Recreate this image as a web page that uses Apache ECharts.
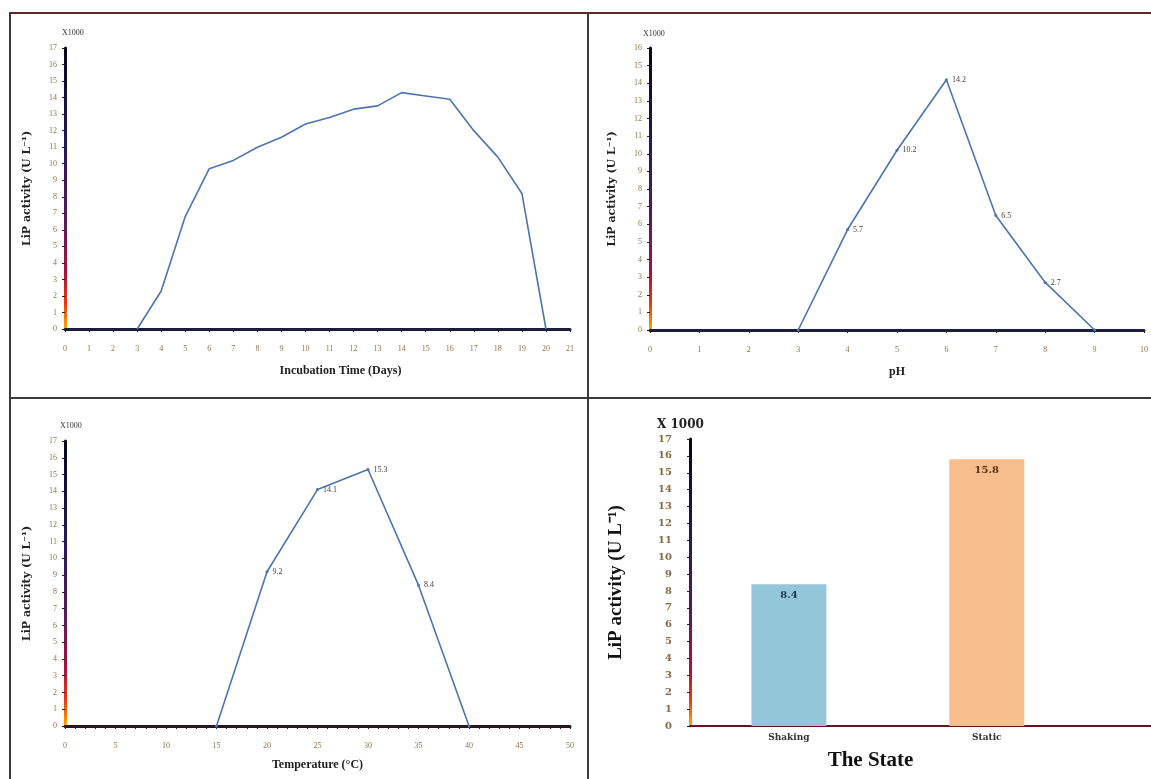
<!DOCTYPE html>
<html>
<head>
<meta charset="utf-8">
<script src="https://cdn.jsdelivr.net/npm/echarts@6/dist/echarts.min.js"></script>
<style>
html,body{margin:0;padding:0;background:#fff;}
#chart{width:1151px;height:779px;}
</style>
</head>
<body>
<div id="chart"></div>
<script>
// ---- data ----
const incubationDays = [3,4,5,6,7,8,9,10,11,12,13,14,15,16,17,18,19,20];
const incubationActivity = [0,2.3,6.8,9.7,10.2,11.0,11.6,12.4,12.8,13.3,13.5,14.3,14.1,13.9,12.0,10.4,8.2,0];
const pHValues = [3,4,5,6,7,8,9];
const pHActivity = [0,5.7,10.2,14.2,6.5,2.7,0];
const temperatures = [15,20,25,30,35,40];
const temperatureActivity = [0,9.2,14.1,15.3,8.4,0];
const states = ['Shaking','Static'];
const stateActivity = [8.4,15.8];
const stateColors = ['#93c6d9','#f7bd8d'];

const yName = 'LiP activity (U L\u207B\u00B9)';
const serif = 'Liberation Serif';
const tickColor = '#8a7450';
const lineColor = '#4d74b0';

function yGradient(){
  return new echarts.graphic.LinearGradient(0,0,0,1,[
    {offset:0,color:'#05051a'},
    {offset:0.35,color:'#23195a'},
    {offset:0.62,color:'#5a1a5a'},
    {offset:0.8,color:'#b0103a'},
    {offset:0.9,color:'#e83a10'},
    {offset:1,color:'#ffb400'}
  ]);
}
const pairs = (xs, ys) => xs.map((x,i)=>[x, ys[i]]);
const incMax = Math.max(...incubationActivity);

function lineY(gridIndex, max){
  return {
    type:'value', gridIndex, min:0, max, interval:1,
    name: yName, nameLocation:'middle', nameGap:32,
    nameTextStyle:{fontFamily:'DejaVu Serif', fontWeight:'bold', fontSize:11, color:'#222'},
    axisLine:{show:true, lineStyle:{color:yGradient(), width:3}},
    axisTick:{show:true, length:3, lineStyle:{color:'#222'}},
    axisLabel:{fontFamily:serif, fontSize:8, color:tickColor, margin:8},
    splitLine:{show:false}
  };
}
function lineX(gridIndex, max, interval, name, axisColor){
  return {
    type:'value', gridIndex, min:0, max, interval,
    name, nameLocation:'middle', nameGap:36,
    nameTextStyle:{fontFamily:serif, fontWeight:'bold', fontSize:12, color:'#222'},
    axisLine:{show:true, onZero:false, lineStyle:{color:axisColor, width:3}},
    axisTick:{show:true, length:3, lineStyle:{color:'#222'}},
    axisLabel:{fontFamily:serif, fontSize:8, color:tickColor, margin:16},
    splitLine:{show:false}
  };
}

const chart = echarts.init(document.getElementById('chart'));
const incX = lineX(0, 21, 1, 'Incubation Time (Days)', '#1c1c3c');
incX.nameTextStyle.padding = [0,0,0,46];
const tempX = lineX(2, 50, 5, 'Temperature (\u00B0C)', '#2a1420');
tempX.minorTick = {show:true, splitNumber:5, length:3, lineStyle:{color:'#222'}};
tempX.nameGap = 33;

chart.setOption({
  animation:false,
  backgroundColor:'#ffffff',
  title:[
    {text:'X1000', left:57, top:24, textStyle:{fontFamily:serif, fontSize:8, fontWeight:'normal', color:'#333'}},
    {text:'X1000', left:638, top:25, textStyle:{fontFamily:serif, fontSize:8, fontWeight:'normal', color:'#333'}},
    {text:'X1000', left:55, top:417, textStyle:{fontFamily:serif, fontSize:8, fontWeight:'normal', color:'#333'}},
    {text:'X 1000', left:652, top:414, textStyle:{fontFamily:'DejaVu Serif', fontSize:12, fontWeight:'bold', color:'#222'}}
  ],
  graphic:[
    {type:'line', shape:{x1:9,y1:13,x2:1151,y2:13}, style:{stroke:'#5a2a2a', lineWidth:2}},
    {type:'line', shape:{x1:10,y1:13,x2:10,y2:779}, style:{stroke:'#3a3a3a', lineWidth:2}},
    {type:'line', shape:{x1:588,y1:13,x2:588,y2:779}, style:{stroke:'#3a3a3a', lineWidth:2}},
    {type:'line', shape:{x1:10,y1:398,x2:1151,y2:398}, style:{stroke:'#3a3a3a', lineWidth:2}}
  ],
  grid:[
    {left:65, top:48, width:505, height:281},
    {left:650, top:48, width:505, height:282},
    {left:65, top:441, width:505, height:285},
    {left:690, top:439, width:461, height:287}
  ],
  xAxis:[
    incX,
    lineX(1, 10, 1, 'pH', '#1c1c3c'),
    tempX,
    {
      type:'value', gridIndex:3, min:0, max:2.33,
      name:'The State', nameLocation:'middle', nameGap:24,
      nameTextStyle:{fontFamily:serif, fontWeight:'bold', fontSize:21, color:'#111', padding:[0,100,0,0]},
      axisLine:{show:true, onZero:false, lineStyle:{color:'#6b1020', width:2}},
      axisTick:{show:false},
      splitLine:{show:false},
      axisLabel:{
        customValues:[0.5,1.5],
        fontFamily:'DejaVu Serif', fontWeight:'bold', fontSize:9, color:'#333', margin:7,
        formatter:(v)=>states[Math.floor(v)]
      }
    }
  ],
  yAxis:[
    lineY(0, 17),
    lineY(1, 16),
    lineY(2, 17),
    {
      type:'value', gridIndex:3, min:0, max:17, interval:1,
      name:yName, nameLocation:'middle', nameGap:64,
      nameTextStyle:{fontFamily:serif, fontWeight:'bold', fontSize:19, color:'#111'},
      axisLine:{show:true, lineStyle:{color:yGradient(), width:3}},
      axisTick:{show:true, length:3, lineStyle:{color:'#222'}},
      axisLabel:{fontFamily:'DejaVu Serif', fontWeight:'bold', fontSize:10, color:'#8a6a45', margin:18},
      splitLine:{show:false}
    }
  ],
  series:[
    {
      type:'line', xAxisIndex:0, yAxisIndex:0,
      data:pairs(incubationDays, incubationActivity),
      showSymbol:false, lineStyle:{color:lineColor, width:1.6},
      label:{show:true, position:'top', distance:3, fontFamily:serif, fontSize:8, color:'#444',
        formatter:(p)=> p.value[1]===incMax ? String(p.value[1]) : ''},
      z:3
    },
    {
      type:'line', xAxisIndex:1, yAxisIndex:1,
      data:pairs(pHValues, pHActivity),
      symbol:'circle', symbolSize:3, itemStyle:{color:lineColor},
      lineStyle:{color:lineColor, width:1.6},
      label:{show:true, position:'right', distance:4, fontFamily:serif, fontSize:8, color:'#444',
        formatter:(p)=> p.value[1]>0 ? String(p.value[1]) : ''},
      z:3
    },
    {
      type:'line', xAxisIndex:2, yAxisIndex:2,
      data:pairs(temperatures, temperatureActivity),
      symbol:'circle', symbolSize:3, itemStyle:{color:lineColor},
      lineStyle:{color:lineColor, width:1.6},
      label:{show:true, position:'right', distance:4, fontFamily:serif, fontSize:8, color:'#444',
        formatter:(p)=> p.value[1]>0 ? String(p.value[1]) : ''},
      z:3
    },
    {
      type:'bar', xAxisIndex:3, yAxisIndex:3, barWidth:75,
      data:stateActivity.map((v,i)=>({value:[i+0.5, v], itemStyle:{color:stateColors[i]},
        label:{color: i===0 ? '#1f3550' : '#5a3010'}})),
      label:{show:true, position:'insideTop', distance:6, fontFamily:'DejaVu Serif', fontWeight:'bold', fontSize:10,
        formatter:(p)=> String(p.value[1])}
    }
  ]
});
</script>
</body>
</html>
